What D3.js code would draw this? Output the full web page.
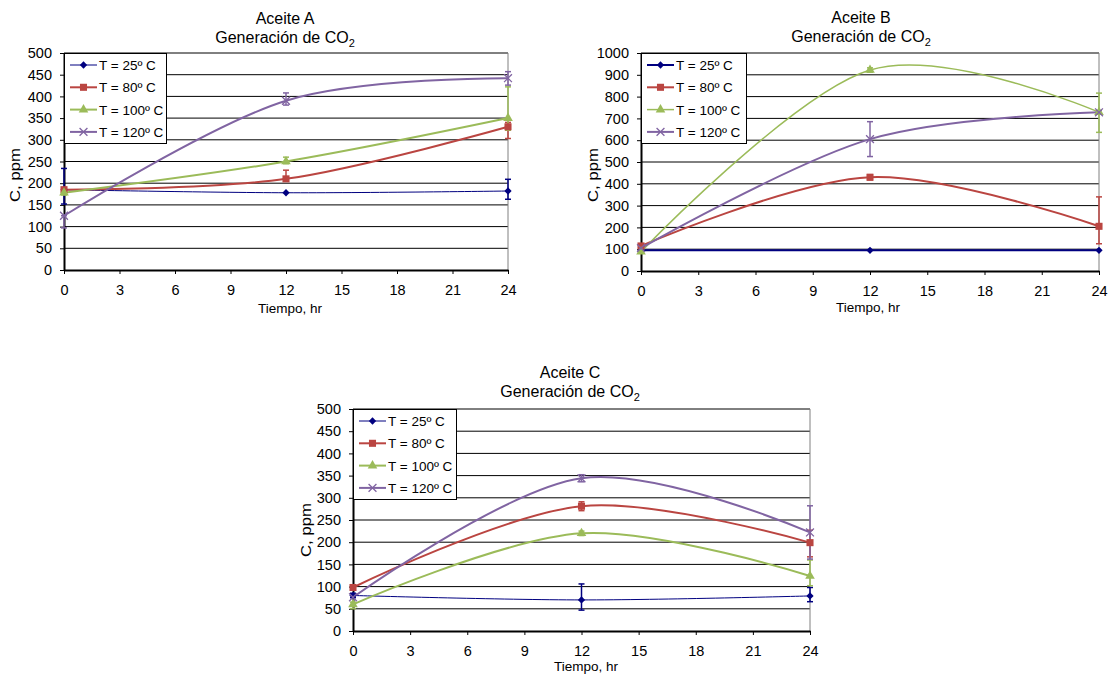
<!DOCTYPE html>
<html>
<head>
<meta charset="utf-8">
<script src="https://cdn.jsdelivr.net/npm/d3@7"></script>
<style>
  body { margin: 0; background: #fff; }
  text { font-family: "Liberation Sans", Arial, sans-serif; fill: #000; }
</style>
</head>
<body>
<script>
// Shared categories
var times = [0, 12, 24];
var seriesNames = ["T = 25º C", "T = 80º C", "T = 100º C", "T = 120º C"];
var xTicks = [0, 3, 6, 9, 12, 15, 18, 21, 24];

// Aceite A (ppm at 0, 12, 24 hr)
var valuesA = [[185, 178, 182], [185, 210, 330], [178, 250, 350], [125, 390, 442]];
var errUpA = [[49, 0, 27], [5, 20, 10], [5, 10, 72], [0, 18, 15]];
var errDownA = [[33, 0, 19], [5, 0, 27], [5, 5, 28], [28, 10, 16]];
var yTicksA = [0, 50, 100, 150, 200, 250, 300, 350, 400, 450, 500];

// Aceite B
var valuesB = [[95, 95, 95], [115, 430, 205], [88, 922, 728], [105, 605, 728]];
var errUpB = [[0, 0, 0], [10, 12, 135], [5, 10, 88], [5, 80, 8]];
var errDownB = [[0, 0, 0], [10, 12, 80], [5, 10, 92], [5, 80, 8]];
var yTicksB = [0, 100, 200, 300, 400, 500, 600, 700, 800, 900, 1000];

// Aceite C
var valuesC = [[80, 70, 79], [98, 281, 199], [60, 220, 124], [76, 344, 222]];
var errUpC = [[5, 36, 19], [5, 10, 28], [5, 5, 36], [5, 8, 60]];
var errDownC = [[5, 23, 13], [5, 10, 32], [10, 5, 22], [20, 8, 60]];
var yTicksC = [0, 50, 100, 150, 200, 250, 300, 350, 400, 450, 500];

// Series styling
var colors = ["#000080", "#BA4541", "#9BBB59", "#8064A2"];
var symbols = [d3.symbolDiamond2, d3.symbolSquare, d3.symbolTriangle, d3.symbolTimes];
var symbolSizes = [34, 50, 40, 42];

var svg = d3.select("body")
  .append("svg")
  .attr("width", 1110)
  .attr("height", 677);

var charts = [
  { title: "Aceite A", values: valuesA, up: errUpA, down: errDownA, yTicks: yTicksA,
    left: 64, right: 508, top: 53, bottom: 270, titleX: 285, titleY: 24,
    xLabelX: 290, xLabelY: 313, yLabelX: 20, yLabelY: 175,
    legendW: 102, widths: [1, 2, 2, 2] },
  { title: "Aceite B", values: valuesB, up: errUpB, down: errDownB, yTicks: yTicksB,
    left: 641, right: 1099, top: 53, bottom: 271, titleX: 861, titleY: 23,
    xLabelX: 868, xLabelY: 312, yLabelX: 598, yLabelY: 175,
    legendW: 105, widths: [2, 2, 1.5, 2] },
  { title: "Aceite C", values: valuesC, up: errUpC, down: errDownC, yTicks: yTicksC,
    left: 353, right: 810, top: 409, bottom: 631, titleX: 570, titleY: 378,
    xLabelX: 586, xLabelY: 671, yLabelX: 311, yLabelY: 530,
    legendW: 103, widths: [1, 2, 2, 2] }
];

function drawMarker(g, i, x, y) {
  var p = g.append("path")
    .attr("d", d3.symbol().type(symbols[i]).size(symbolSizes[i])())
    .attr("transform", "translate(" + x + "," + y + ")");
  if (i == 3) {
    p.attr("fill", "none").attr("stroke", colors[i]).attr("stroke-width", 1.3);
  } else {
    p.attr("fill", colors[i]);
  }
}

function drawChart(c) {
  var g = svg.append("g");
  var yMax = c.yTicks[c.yTicks.length - 1];

  var xScale = d3.scaleLinear().domain([0, 24]).range([c.left, c.right]);
  var yScale = d3.scaleLinear().domain([0, yMax]).range([c.bottom, c.top]);

  // plot background and horizontal grid
  g.append("rect")
    .attr("x", c.left).attr("y", c.top)
    .attr("width", c.right - c.left).attr("height", c.bottom - c.top)
    .attr("fill", "#fff");

  g.selectAll(".grid")
    .data(c.yTicks.slice(1))
    .enter()
    .append("line")
    .attr("x1", c.left).attr("x2", c.right)
    .attr("y1", function(d) { return yScale(d); })
    .attr("y2", function(d) { return yScale(d); })
    .attr("stroke", "#000")
    .attr("stroke-width", 1);

  // right border
  g.append("line")
    .attr("x1", c.right).attr("x2", c.right)
    .attr("y1", c.top).attr("y2", c.bottom)
    .attr("stroke", "#808080");

  // axes
  var yAxis = g.append("g")
    .attr("transform", "translate(" + c.left + ",0)")
    .call(d3.axisLeft(yScale).tickValues(c.yTicks).tickFormat(d3.format("d"))
      .tickSize(4).tickSizeOuter(0).tickPadding(8));
  var xAxis = g.append("g")
    .attr("transform", "translate(0," + c.bottom + ")")
    .call(d3.axisBottom(xScale).tickValues(xTicks).tickFormat(d3.format("d"))
      .tickSize(4).tickSizeOuter(0).tickPadding(11));

  [yAxis, xAxis].forEach(function(ax) {
    ax.attr("font-size", 14.5).attr("font-family", '"Liberation Sans", Arial, sans-serif');
    ax.select(".domain").attr("stroke", "#000").attr("stroke-width", 2);
    ax.selectAll(".tick line").attr("stroke", "#000");
  });

  // series lines
  var line = d3.line()
    .x(function(d) { return xScale(d[0]); })
    .y(function(d) { return yScale(d[1]); })
    .curve(d3.curveCardinal.tension(0));

  c.values.forEach(function(vals, i) {
    var pts = times.map(function(t, j) { return [t, vals[j]]; });
    g.append("path")
      .attr("d", line(pts))
      .attr("fill", "none")
      .attr("stroke", colors[i])
      .attr("stroke-width", c.widths[i]);
  });

  // error bars
  c.values.forEach(function(vals, i) {
    times.forEach(function(t, j) {
      var up = c.up[i][j], down = c.down[i][j];
      if (up == 0 && down == 0) return;
      var x = xScale(t);
      var y1 = yScale(vals[j] + up), y2 = yScale(vals[j] - down);
      g.append("line").attr("x1", x).attr("x2", x).attr("y1", y1).attr("y2", y2)
        .attr("stroke", colors[i]).attr("stroke-width", 1.5);
      [y1, y2].forEach(function(yy) {
        g.append("line").attr("x1", x - 3).attr("x2", x + 3).attr("y1", yy).attr("y2", yy)
          .attr("stroke", colors[i]).attr("stroke-width", 1.5);
      });
    });
  });

  // markers
  c.values.forEach(function(vals, i) {
    times.forEach(function(t, j) {
      drawMarker(g, i, xScale(t), yScale(vals[j]));
    });
  });

  // legend
  var legend = g.append("g").attr("transform", "translate(" + c.left + "," + c.top + ")");
  legend.append("rect")
    .attr("x", 0.5).attr("y", 0.5)
    .attr("width", c.legendW).attr("height", 90)
    .attr("fill", "#fff").attr("stroke", "#000");
  seriesNames.forEach(function(name, i) {
    var yy = 12 + i * 22.3;
    legend.append("line")
      .attr("x1", 6).attr("x2", 33).attr("y1", yy).attr("y2", yy)
      .attr("stroke", colors[i]).attr("stroke-width", c.widths[i]);
    drawMarker(legend, i, 19.5, yy);
    legend.append("text")
      .attr("x", 35).attr("y", yy + 5)
      .style("font-size", "13.5px")
      .text(name);
  });

  // titles
  g.append("text")
    .attr("x", c.titleX).attr("y", c.titleY)
    .attr("text-anchor", "middle")
    .style("font-size", "16px")
    .text(c.title);
  var sub = g.append("text")
    .attr("x", c.titleX).attr("y", c.titleY + 19)
    .attr("text-anchor", "middle")
    .style("font-size", "16px");
  sub.append("tspan").text("Generación de CO");
  sub.append("tspan").attr("dy", 4).style("font-size", "11px").text("2");

  g.append("text")
    .attr("x", c.xLabelX).attr("y", c.xLabelY)
    .attr("text-anchor", "middle")
    .style("font-size", "13.5px")
    .text("Tiempo, hr");

  g.append("text")
    .attr("transform", "translate(" + c.yLabelX + "," + c.yLabelY + ") rotate(-90)")
    .attr("text-anchor", "middle")
    .attr("textLength", 54)
    .attr("lengthAdjust", "spacingAndGlyphs")
    .style("font-size", "14px")
    .text("C, ppm");
}

charts.forEach(drawChart);
</script>
</body>
</html>
